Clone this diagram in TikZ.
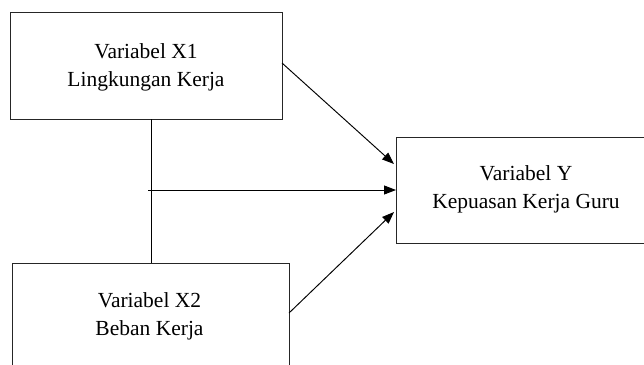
\documentclass[tikz,border=0pt]{standalone}
\usepackage{fontspec}
\setmainfont{Liberation Serif}
\usetikzlibrary{arrows.meta,calc}
\begin{document}
\begin{tikzpicture}[x=1pt,y=-1pt,
  box/.style={draw=black!85,line width=1pt,rectangle,inner sep=0pt,anchor=north west},
  lbl/.style={align=center,font=\fontsize{21.5}{28}\selectfont,inner sep=0pt},
  conn/.style={line width=0.95pt,draw=black},
  arr/.style={conn,-{Triangle[length=12pt,width=9pt]}}]
\useasboundingbox (0,0) rectangle (644,364);
\clip (0,0) rectangle (644,364);
\node[box,minimum width=272pt,minimum height=107pt] (x1) at (10,12) {};
\node[box,minimum width=277pt,minimum height=140pt] (x2) at (12,263) {};
\node[box,minimum width=270pt,minimum height=106pt] (y) at (396,137) {};
\node[lbl] (x1t) at (146,67) {Variabel X1\\Lingkungan Kerja};
\node[lbl] (x2t) at (149.5,316) {Variabel X2\\Beban Kerja};
\node[lbl] (yt) at (526,189) {Variabel Y\\Kepuasan Kerja Guru};
\coordinate (vtop) at (151,119);
\coordinate (vbot) at (151,263);
\coordinate (hstart) at (148,190);
\coordinate (a1s) at (282,63);
\coordinate (a1e) at (394,164);
\coordinate (a3s) at (289,313);
\coordinate (a3e) at (394,212);
\draw[conn] (vtop) -- (vbot);
\draw[arr] (hstart) -- (hstart -| y.west);
\draw[arr] (a1s) -- (a1e);
\draw[arr] (a3s) -- (a3e);
\end{tikzpicture}
\end{document}
